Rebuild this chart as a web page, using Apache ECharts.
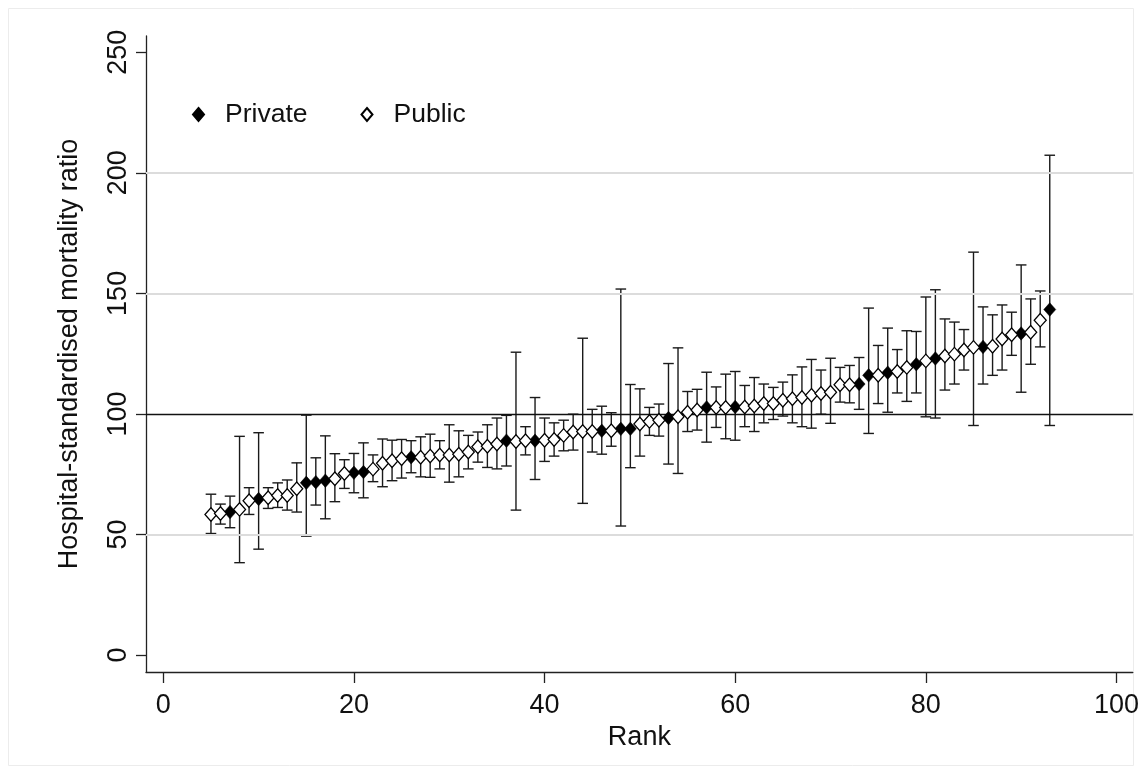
<!DOCTYPE html>
<html>
<head>
<meta charset="utf-8">
<script src="https://cdn.jsdelivr.net/npm/echarts@6/dist/echarts.min.js"></script>
<style>
html,body{margin:0;padding:0;background:#fff;}
#main{width:1142px;height:774px;}
</style>
</head>
<body>
<div id="main"></div>
<script>
// Hospital rank (x)
var ranks = [5,6,7,8,9,10,11,12,13,14,15,16,17,18,19,20,21,22,23,24,25,26,27,28,29,30,31,32,33,34,35,36,37,38,39,40,41,42,43,44,45,46,47,48,49,50,51,52,53,54,55,56,57,58,59,60,61,62,63,64,65,66,67,68,69,70,71,72,73,74,75,76,77,78,79,80,81,82,83,84,85,86,87,88,89,90,91,92,93];
// P = private, U = public
var types = ['U','U','P','U','U','P','U','U','U','U','P','P','P','U','U','P','P','U','U','U','U','P','U','U','U','U','U','U','U','U','U','P','U','U','P','U','U','U','U','U','U','P','U','P','P','U','U','U','P','U','U','U','P','U','U','P','U','U','U','U','U','U','U','U','U','U','U','U','P','P','U','P','U','U','P','U','P','U','U','U','U','P','U','U','U','P','U','U','P'];
// Hospital-standardised mortality ratio
var hsmr = [58.3,58.7,59.3,60.4,64.0,64.7,65.2,66.2,66.2,69.0,71.4,71.7,72.3,73.1,75.3,75.6,75.9,77.1,79.5,80.6,81.4,82.0,82.0,82.5,83.0,83.0,83.3,84.2,86.4,86.6,87.5,88.9,88.6,88.9,88.9,89.1,89.4,91.1,92.5,92.7,92.7,93.0,93.0,93.8,93.8,95.8,96.9,97.4,98.3,98.8,100.7,101.6,102.7,102.7,102.7,102.9,102.9,103.3,104.3,104.3,105.7,106.3,106.8,107.7,108.5,109.0,112.1,112.1,112.4,116.0,116.0,117.1,117.6,119.3,120.6,122.0,123.0,124.0,124.8,126.5,127.6,127.8,128.1,131.1,132.8,133.4,133.9,138.9,143.3];
var lower = [50.4,54.3,52.8,38.3,58.3,43.9,60.8,61.2,60.1,59.3,49.3,62.2,56.5,63.6,69.1,67.3,65.2,71.9,69.8,72.3,73.4,75.6,73.9,73.7,77.2,71.7,73.9,77.2,80.0,77.8,77.2,78.4,60.1,83.0,72.8,80.3,82.5,84.7,85.0,62.9,84.2,83.3,86.6,53.5,77.7,82.5,91.1,90.8,79.2,75.3,92.7,93.3,88.3,94.4,89.7,89.1,94.7,92.7,96.3,97.7,99.1,96.3,94.7,94.1,99.9,96.1,104.9,104.6,101.9,91.9,104.3,100.7,108.7,105.2,108.7,98.8,98.3,109.9,112.4,118.2,95.2,112.4,116.0,118.2,124.3,109.0,120.6,127.8,95.2];
var upper = [66.7,62.6,65.9,90.7,69.4,92.2,69.4,71.4,72.6,79.7,99.5,81.8,90.9,83.5,81.0,83.6,88.0,83.0,89.6,89.1,89.4,88.9,90.5,91.6,88.9,95.5,93.0,91.1,92.5,95.5,98.3,99.4,125.6,94.7,106.8,98.3,96.3,97.4,99.9,131.4,101.9,103.2,100.5,151.8,112.2,110.4,102.7,104.1,120.9,127.4,109.3,110.2,117.3,111.2,116.5,117.6,111.8,115.1,112.4,111.0,113.2,116.2,119.5,122.6,118.2,123.1,119.3,120.1,123.4,143.9,128.4,135.6,126.7,134.5,134.2,148.5,151.5,139.4,138.1,135.0,167.1,144.4,141.1,145.2,142.2,161.8,147.7,151.0,207.3];
var xTicks = [0,20,40,60,80,100];
var yTicks = [0,50,100,150,200,250];
var gridLines = [50,150,200];
var refLine = 100;

var privateData = [], publicData = [], barData = [];
for (var i = 0; i < ranks.length; i++) {
  barData.push([ranks[i], lower[i], upper[i]]);
  if (types[i] === 'P') privateData.push([ranks[i], hsmr[i]]);
  else publicData.push([ranks[i], hsmr[i]]);
}

var FONT = '"Liberation Sans", Arial, sans-serif';
var chart = echarts.init(document.getElementById('main'), null, {renderer: 'canvas'});
chart.setOption({
  backgroundColor: '#fff',
  animation: false,
  graphic: [{
    type: 'rect', silent: true, z: -10,
    shape: {x: 8.5, y: 8.5, width: 1125, height: 757},
    style: {fill: 'none', stroke: '#ececec', lineWidth: 1}
  }],
  grid: {left: 146, right: 9, top: 36, bottom: 102, containLabel: false},
  legend: {
    left: 192, top: 101, padding: 0,
    itemWidth: 11, itemHeight: 13, itemGap: 53,
    textStyle: {fontFamily: FONT, fontSize: 26.5, color: '#111', padding: [0, 0, 0, 16]},
    data: [{name: 'Private', icon: 'diamond'}, {name: 'Public', icon: 'diamond'}]
  },
  xAxis: {
    type: 'value', min: -1.815, max: 101.71,
    name: 'Rank', nameLocation: 'middle', nameGap: 49,
    nameTextStyle: {fontFamily: FONT, fontSize: 27, color: '#111'},
    axisLine: {show: true, onZero: false, lineStyle: {color: '#222', width: 1.3}},
    axisTick: {show: true, length: 11, inside: false, customValues: xTicks, lineStyle: {color: '#222', width: 1.3}},
    axisLabel: {customValues: xTicks, fontFamily: FONT, fontSize: 27, color: '#111', margin: 20},
    splitLine: {show: false}
  },
  yAxis: {
    type: 'value', min: -7.05, max: 256.76,
    name: 'Hospital-standardised mortality ratio', nameLocation: 'middle', nameGap: 63, nameRotate: 90,
    nameTextStyle: {fontFamily: FONT, fontSize: 27, color: '#111'},
    axisLine: {show: true, onZero: false, lineStyle: {color: '#222', width: 1.3}},
    axisTick: {show: true, length: 10, inside: false, customValues: yTicks, lineStyle: {color: '#222', width: 1.3}},
    axisLabel: {customValues: yTicks, rotate: 90, fontFamily: FONT, fontSize: 27, color: '#111', margin: 14},
    splitLine: {show: false}
  },
  series: [
    {
      type: 'custom', name: 'ci', z: 2, silent: true,
      data: barData,
      encode: {x: 0, y: [1, 2]},
      renderItem: function (params, api) {
        var x = api.value(0);
        var lo = api.coord([x, api.value(1)]);
        var hi = api.coord([x, api.value(2)]);
        var hw = 5.3;
        var st = {stroke: '#1a1a1a', lineWidth: 1.4, fill: 'none'};
        return {
          type: 'group',
          children: [
            {type: 'line', shape: {x1: lo[0], y1: lo[1], x2: hi[0], y2: hi[1]}, style: st},
            {type: 'line', shape: {x1: lo[0] - hw, y1: lo[1], x2: lo[0] + hw, y2: lo[1]}, style: st},
            {type: 'line', shape: {x1: hi[0] - hw, y1: hi[1], x2: hi[0] + hw, y2: hi[1]}, style: st}
          ]
        };
      },
      markLine: {
        silent: true, symbol: 'none', label: {show: false},
        data: gridLines.map(function (v) { return {yAxis: v, lineStyle: {color: '#dcdcdc', width: 2, type: 'solid'}}; })
          .concat([{yAxis: refLine, lineStyle: {color: '#111', width: 1.3, type: 'solid'}}])
      }
    },
    {
      type: 'scatter', name: 'Private', z: 5, symbol: 'diamond', symbolSize: [12, 13.5],
      itemStyle: {color: '#000', borderColor: '#000', borderWidth: 0.5, opacity: 1},
      data: privateData
    },
    {
      type: 'scatter', name: 'Public', z: 5, symbol: 'diamond', symbolSize: [12, 13.5],
      itemStyle: {color: '#fff', borderColor: '#000', borderWidth: 1.3, opacity: 1},
      data: publicData
    }
  ]
});
</script>
</body>
</html>
